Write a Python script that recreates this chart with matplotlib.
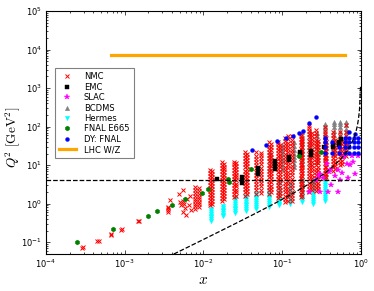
import matplotlib
matplotlib.use("Agg")
import matplotlib.pyplot as plt
import numpy as np

# kinematic cuts
q2_cut = 4.0
w2_cut = 12.5
m2_proton = 0.88

# NMC: columns of points (x bin, Q2 values)
nmc_lowx_x = [2.85e-4, 2.97e-4, 4.4e-4, 4.7e-4, 6.7e-4, 6.75e-4, 8.9e-4, 9.2e-4,
              1.49e-3, 1.52e-3, 3.5e-3, 3.5e-3, 3.5e-3, 3.55e-3, 3.8e-3, 4.9e-3,
              5.5e-3, 5.0e-3, 5.2e-3, 5.5e-3, 5.6e-3, 5.8e-3, 5.5e-3, 6.0e-3,
              6.2e-3, 6.5e-3, 6.8e-3, 7.0e-3]
nmc_lowx_q2 = [0.070, 0.074, 0.108, 0.108, 0.152, 0.16, 0.213, 0.22,
               0.35, 0.36, 0.6, 0.68, 0.76, 0.82, 1.27, 1.8,
               2.2, 1.1, 0.9, 1.2, 1.0, 0.75, 0.62, 0.52,
               1.35, 0.9, 1.6, 0.7]
nmc_x = [0.0078, 0.0088, 0.0122, 0.013, 0.0172, 0.0182, 0.0245, 0.026,
         0.034, 0.036, 0.047, 0.054, 0.069, 0.073, 0.088, 0.093,
         0.11, 0.118, 0.135, 0.171, 0.181, 0.222, 0.236, 0.27,
         0.285, 0.345, 0.36, 0.44, 0.47, 0.54, 0.57, 0.65]
nmc_q2 = [
    [0.74, 0.85, 1.0, 1.15, 1.35, 1.6, 1.9, 2.3, 2.7],
    [0.8, 0.95, 1.1, 1.3, 1.5, 1.75, 2.1, 2.5],
    [0.9, 1.05, 1.25, 1.5, 1.8, 2.1, 2.5, 3.0, 3.6, 4.3, 5.2, 6.2, 7.5],
    [0.95, 1.15, 1.4, 1.65, 2.0, 2.4, 2.9, 3.4, 4.1, 4.9, 5.9, 7.0],
    [1.2, 1.4, 1.7, 2.0, 2.4, 2.9, 3.4, 4.1, 4.9, 5.9, 7.0, 8.4, 10, 11.9],
    [1.3, 1.55, 1.85, 2.2, 2.65, 3.15, 3.8, 4.5, 5.4, 6.5, 7.7, 9.2, 11],
    [1.5, 1.8, 2.15, 2.55, 3.05, 3.65, 4.35, 5.2, 6.2, 7.4, 8.8, 10.5, 11.9],
    [1.6, 1.95, 2.3, 2.8, 3.3, 4.0, 4.8, 5.7, 6.8, 8.1, 9.7, 11.5],
    [1.6, 1.95, 2.35, 2.85, 3.4, 4.1, 5.0, 6.0, 7.2, 8.7, 10.5, 12.6, 15.2, 18.3, 21.5],
    [1.75, 2.1, 2.55, 3.1, 3.7, 4.5, 5.4, 6.5, 7.9, 9.5, 11.5, 13.8, 16.6, 20],
    [1.8, 2.2, 2.65, 3.2, 3.85, 4.65, 5.6, 6.8, 8.2, 9.9, 12, 14.5, 17.5, 21.5],
    [1.9, 2.3, 2.8, 3.35, 4.05, 4.9, 5.9, 7.1, 8.6, 10.4, 12.5, 15.1, 18.2, 21],
    [1.8, 2.2, 2.7, 3.25, 3.95, 4.8, 5.8, 7.0, 8.5, 10.3, 12.5, 15.1, 18.3, 22.2, 27, 32, 39],
    [2.0, 2.4, 2.95, 3.55, 4.3, 5.2, 6.3, 7.6, 9.3, 11.2, 13.6, 16.5, 20, 24.2, 29.5, 35],
    [1.4, 1.7, 2.05, 2.5, 3.0, 3.65, 4.4, 5.35, 6.5, 7.9, 9.5, 11.5, 14, 17, 20.5, 25, 30, 36, 39],
    [1.55, 1.9, 2.3, 2.75, 3.35, 4.05, 4.9, 5.95, 7.2, 8.7, 10.5, 12.8, 15.5, 18.8, 22.8, 27.5, 33],
    [1.1, 1.35, 1.6, 1.95, 2.4, 2.9, 3.5, 4.25, 5.15, 6.25, 7.6, 9.2, 11.2, 13.5, 16.4, 19.9, 24, 29, 35.5, 43, 52],
    [1.2, 1.45, 1.75, 2.15, 2.6, 3.15, 3.8, 4.6, 5.6, 6.8, 8.2, 10, 12.1, 14.7, 17.8, 21.6, 26.2, 31.8, 38.5, 46.7, 56],
    [1.15, 1.4, 1.7, 2.05, 2.5, 3.0, 3.65, 4.45, 5.4, 6.5, 7.9, 9.6, 11.7, 14.2, 17.2, 20.8, 25.3, 30.7, 37.2, 45, 58],
    [1.5, 1.8, 2.2, 2.65, 3.2, 3.9, 4.7, 5.7, 6.9, 8.4, 10.2, 12.3, 15, 18.2, 22, 26.7, 32.4, 39.3, 47.6, 57.7, 64],
    [1.6, 1.95, 2.35, 2.85, 3.45, 4.2, 5.1, 6.2, 7.5, 9.1, 11, 13.4, 16.2, 19.7, 23.8, 28.9, 35, 42.5, 51.5],
    [2.0, 2.4, 2.9, 3.5, 4.25, 5.15, 6.25, 7.6, 9.2, 11.2, 13.6, 16.5, 20, 24.2, 29.4, 35.6, 43.2, 52.4, 63.5, 77, 93, 105],
    [2.2, 2.65, 3.2, 3.9, 4.7, 5.7, 6.9, 8.4, 10.2, 12.4, 15, 18.2, 22, 26.7, 32.4, 39.3, 47.7, 57.8, 70],
    [2.1, 2.55, 3.1, 3.75, 4.55, 5.5, 6.7, 8.1, 9.8, 11.9, 14.4, 17.5, 21.2, 25.7, 31.2, 37.8, 45.8, 55.6, 67.4, 81.7],
    [2.4, 2.9, 3.5, 4.25, 5.15, 6.25, 7.6, 9.2, 11.2, 13.6, 16.5, 20, 24.2, 29.4, 35.6, 43],
    [4.5, 5.15, 6.25, 7.6, 9.2, 11.2, 13.6, 16.5, 20, 24.2, 29.4, 35.6, 43.2, 52.4, 63.5, 77, 95],
    [4.85, 5.9, 7.15, 8.7, 10.5, 12.8, 15.5, 18.8, 22.8, 27.6, 33.5, 40.6, 49.2],
    [7.2, 8.7, 10.6, 12.8, 15.5, 18.8, 22.8, 27.7, 33.5, 40.7, 49.3, 59.8, 71],
    [7.8, 9.5, 11.5, 13.9, 16.9, 20.5, 24.8, 30.1, 36.5, 44.2],
    [9.8, 11.9, 14.4, 17.5, 21.2, 25.7, 31.2, 37.8, 45.8, 55.6, 71],
    [10.8, 13.1, 15.9, 19.3, 23.4, 28.4, 34.4, 41.7],
    [17.7, 21.5, 26, 31.5, 38.2, 46.3, 56.2, 71, 112],
]

# EMC
emc_x = [0.0147, 0.031, 0.031, 0.031, 0.0497, 0.0497, 0.0497, 0.08, 0.08, 0.08,
         0.08, 0.123, 0.123, 0.168, 0.168, 0.235, 0.235, 0.34, 0.44, 0.44,
         0.53, 0.53, 0.56]
emc_q2 = [4.4, 3.4, 4.0, 4.8, 6.0, 7.0, 8.2, 8.0, 9.5, 11,
          13, 13.5, 16, 20, 22, 18.5, 23, 29, 29, 34,
          33, 40, 47]

# SLAC
slac_x = [0.22, 0.30, 0.38, 0.51, 0.27, 0.42, 0.54, 0.68, 0.84, 0.30,
          0.39, 0.40, 0.51, 0.66, 0.79, 0.72, 0.37, 0.61, 0.78, 0.92,
          0.29, 0.33, 0.47, 0.58]
slac_q2 = [2.0, 2.0, 2.0, 2.0, 4.0, 3.1, 4.0, 4.7, 6.0, 6.0,
           6.6, 7.3, 7.5, 10.4, 11.9, 10.2, 10.8, 16, 17, 17.7,
           5.2, 4.6, 5.3, 6.3]

# BCDMS
bcdms_x = [0.07, 0.10, 0.14, 0.18, 0.225, 0.275, 0.35, 0.45, 0.55, 0.65]
bcdms_q2 = [
    [8, 10, 12.5, 15, 18, 22],
    [8, 10, 12.5, 15.5, 19, 23, 28, 33],
    [9, 11, 13.5, 16.5, 20, 25, 31, 39],
    [10, 12.5, 15.5, 19, 24, 30, 37, 46, 57, 71],
    [11, 14, 17, 21, 26, 33, 41, 51, 64, 79],
    [12, 15, 19, 23, 29, 36, 45, 57, 70],
    [15, 19, 23, 29, 36, 45, 56, 70, 88, 105, 118],
    [20, 25, 31, 39, 49, 61, 76, 95, 118, 128],
    [25, 31, 39, 49, 61, 76, 95, 118, 128],
    [30, 37, 46, 57, 71, 88, 110, 128],
]

# Hermes
hermes_x = [0.0124, 0.0175, 0.0253, 0.035, 0.046, 0.068, 0.092, 0.126, 0.177, 0.249, 0.35]
hermes_q2 = [
    [0.36, 0.40, 0.44, 0.49, 0.54, 0.60, 0.67, 0.74],
    [0.47, 0.52, 0.57, 0.63, 0.70, 0.78, 0.86],
    [0.58, 0.64, 0.71, 0.79, 0.88, 0.98, 1.1, 1.25, 1.4],
    [0.65, 0.72, 0.80, 0.9, 1.0, 1.12, 1.25, 1.4, 1.6],
    [0.74, 0.82, 0.92, 1.03, 1.15, 1.3, 1.45, 1.65, 1.85],
    [0.82, 0.92, 1.03, 1.15, 1.3, 1.45, 1.65, 1.85, 2.1],
    [0.9, 1.0, 1.13, 1.27, 1.43, 1.6, 1.8, 2.0, 2.3, 2.6, 3.0, 3.3],
    [1.0, 1.12, 1.26, 1.42, 1.6, 1.8, 2.0, 2.3, 2.6, 2.95, 3.3],
    [1.1, 1.23, 1.38, 1.55, 1.75, 1.95, 2.2, 2.5, 2.8, 3.2, 3.6, 4.0],
    [1.0, 1.13, 1.27, 1.43, 1.6, 1.8, 2.0, 2.3, 2.6, 2.9, 3.3, 3.7, 4.2],
    [1.2, 1.35, 1.52, 1.7, 1.9, 2.15, 2.4, 2.7, 3.05, 3.4, 3.85, 4.3, 4.9],
]

# FNAL E665
e665_x = [2.5e-4, 7.0e-4, 2.0e-3, 2.6e-3, 4.0e-3, 5.9e-3, 9.5e-3, 0.0115,
          0.0205, 0.021, 0.040, 0.164, 0.31]
e665_q2 = [0.098, 0.226, 0.49, 0.65, 0.9, 1.35, 1.9, 2.35,
           4.4, 3.6, 7.7, 17, 21.5]

# Drell-Yan FNAL
dy_x = [0.0413, 0.062, 0.086, 0.112, 0.137, 0.162, 0.183, 0.217, 0.271,
        0.35, 0.63, 0.71, 0.81, 0.91,
        0.35, 0.43, 0.63, 0.71, 0.81, 0.91,
        0.345, 0.52, 0.63, 0.71, 0.81, 0.91,
        0.345, 0.43, 0.52, 0.63, 0.71, 0.81, 0.91,
        0.71, 0.84]
dy_q2 = [24.9, 34, 43, 51, 58, 67, 78, 121, 173,
         52, 52, 52, 52, 52,
         39, 39, 39, 39, 39, 39,
         29, 29, 29, 29, 29, 29,
         21, 21, 21, 21, 21, 21, 21,
         71, 65]

# LHC W/Z
lhc_x = [6.7e-4, 0.63]
lhc_q2 = [7200, 7200]


def flatten(xs, q2s):
    fx, fq = [], []
    for x, qs in zip(xs, q2s):
        fx += [x] * len(qs)
        fq += qs
    return fx, fq


fig = plt.figure(figsize=(3.74, 2.91), dpi=100)
ax = fig.add_axes([0.123, 0.128, 0.842, 0.834])

nx, nq = flatten(nmc_x, nmc_q2)
nx = nmc_lowx_x + nx
nq = nmc_lowx_q2 + nq
bx, bq = flatten(bcdms_x, bcdms_q2)
hx, hq = flatten(hermes_x, hermes_q2)

h_hermes, = ax.plot(hx, hq, ls='none', marker='v', color='cyan', mec='cyan', ms=3, mew=0.4, zorder=2, label='Hermes')
h_bcdms, = ax.plot(bx, bq, ls='none', marker='^', color='grey', mec='grey', ms=3, mew=0.4, zorder=2, label='BCDMS')
h_nmc, = ax.plot(nx, nq, ls='none', marker='x', color='red', ms=2.5, mew=0.7, zorder=3, label='NMC')
h_slac, = ax.plot(slac_x, slac_q2, ls='none', marker='*', color='magenta', mec='magenta', ms=3.8, mew=0.3, zorder=3, label='SLAC')
h_emc, = ax.plot(emc_x, emc_q2, ls='none', marker='s', color='black', ms=2.8, mew=0.3, zorder=4, label='EMC')
h_e665, = ax.plot(e665_x, e665_q2, ls='none', marker='h', color='green', mec='green', ms=3.5, mew=0.3, zorder=4, label='FNAL E665')
h_dy, = ax.plot(dy_x, dy_q2, ls='none', marker='o', color='blue', mec='blue', ms=2.8, mew=0.3, zorder=4, label='DY: FNAL')
h_lhc, = ax.plot(lhc_x, lhc_q2, color='orange', lw=2.3, zorder=3, label='LHC W/Z')

# cuts
ax.axhline(q2_cut, color='black', ls='--', lw=0.9, zorder=5)
xc = np.logspace(-4, np.log10(0.99), 300)
ax.plot(xc, (w2_cut - m2_proton) * xc / (1 - xc), color='black', ls='--', lw=0.9, zorder=5)

ax.set_xscale('log')
ax.set_yscale('log')
ax.set_xlim(1e-4, 1)
ax.set_ylim(0.05, 1e5)

ax.tick_params(which='both', direction='in', top=True, right=True, labelsize=6, width=0.5)
ax.tick_params(which='major', length=3, pad=3)
ax.tick_params(which='minor', length=1.5)
for sp in ax.spines.values():
    sp.set_linewidth(0.8)

ax.set_xlabel(r'$x$', fontsize=11, math_fontfamily='cm')
ax.xaxis.set_label_coords(0.5, -0.075)
ax.set_ylabel(r'$Q^2\ [\mathrm{GeV}^2]$', fontsize=9.5, math_fontfamily='cm')
ax.yaxis.set_label_coords(-0.075, 0.48)

leg = ax.legend(handles=[h_nmc, h_emc, h_slac, h_bcdms, h_hermes, h_e665, h_dy, h_lhc],
                loc='upper left', bbox_to_anchor=(0.028, 0.765), borderaxespad=0,
                fontsize=6, numpoints=1, fancybox=False, framealpha=1,
                edgecolor='grey', handlelength=2.0, handletextpad=1.0,
                labelspacing=0.17, borderpad=0.5)
leg.get_frame().set_linewidth(0.8)

fig.savefig('out.png', dpi=100)
